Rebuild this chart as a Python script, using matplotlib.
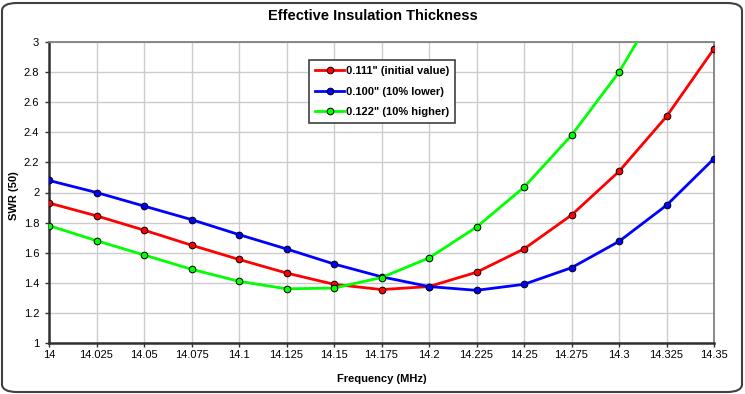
import matplotlib
matplotlib.use("Agg")
import matplotlib.pyplot as plt
from matplotlib.patches import FancyBboxPatch

freq = [14.0, 14.025, 14.05, 14.075, 14.1, 14.125, 14.15, 14.175, 14.2, 14.225, 14.25, 14.275, 14.3, 14.325, 14.35]
swr_initial = [1.93, 1.845, 1.75, 1.65, 1.555, 1.465, 1.39, 1.355, 1.375, 1.47, 1.625, 1.85, 2.14, 2.505, 2.955]
swr_lower = [2.08, 2.00, 1.91, 1.82, 1.72, 1.625, 1.525, 1.44, 1.375, 1.35, 1.39, 1.50, 1.675, 1.915, 2.225]
swr_higher = [1.78, 1.68, 1.585, 1.49, 1.41, 1.36, 1.365, 1.435, 1.565, 1.77, 2.035, 2.38, 2.80, 3.33, 3.95]
labels = ['0.111" (initial value)', '0.100" (10% lower)', '0.122" (10% higher)']
colors = ['#ff0000', '#0000ff', '#00ff00']
xticks = [14, 14.025, 14.05, 14.075, 14.1, 14.125, 14.15, 14.175, 14.2, 14.225, 14.25, 14.275, 14.3, 14.325, 14.35]
xtick_labels = ['14', '14.025', '14.05', '14.075', '14.1', '14.125', '14.15', '14.175', '14.2', '14.225', '14.25', '14.275', '14.3', '14.325', '14.35']
yticks = [1, 1.2, 1.4, 1.6, 1.8, 2, 2.2, 2.4, 2.6, 2.8, 3]
ytick_labels = ['1', '1.2', '1.4', '1.6', '1.8', '2', '2.2', '2.4', '2.6', '2.8', '3']

plt.rcParams['font.family'] = ['Liberation Sans', 'DejaVu Sans']

W, H = 745, 394
fig = plt.figure(figsize=(W / 100, H / 100), dpi=100)
fig.patch.set_facecolor('white')

border = FancyBboxPatch((2 / W, 2 / H), 1 - 5 / W, 1 - 5 / H,
                        boxstyle="round,pad=0,rounding_size=0.02",
                        transform=fig.transFigure, facecolor='none',
                        edgecolor='#404040', linewidth=1.5, zorder=-1)
fig.patches.append(border)

ax = fig.add_axes([49 / W, 1 - 343 / H, (714 - 49) / W, (343 - 42) / H])
ax.set_facecolor('white')

for ys, c, lab in zip([swr_initial, swr_lower, swr_higher], colors, labels):
    ax.plot(freq, ys, color=c, linewidth=2.0, marker='o', markersize=4.8,
            markerfacecolor=c, markeredgecolor='black', markeredgewidth=0.7,
            label=lab, clip_on=True, zorder=3)

ax.set_xlim(14, 14.35)
ax.set_ylim(1, 3)
ax.set_xticks(xticks)
ax.set_xticklabels(xtick_labels, fontsize=8)
ax.set_yticks(yticks)
ax.set_yticklabels(ytick_labels, fontsize=8)
ax.grid(True, color='#cccccc', linewidth=1.0, zorder=0)
ax.set_axisbelow(True)

for s in ['top', 'right']:
    ax.spines[s].set_color('#808080')
    ax.spines[s].set_linewidth(1.3)
for s in ['left', 'bottom']:
    ax.spines[s].set_color('#303030')
    ax.spines[s].set_linewidth(1.8)
ax.tick_params(axis='x', direction='out', length=3, width=1, color='#303030', pad=2)
ax.tick_params(axis='y', direction='out', length=3, width=1, color='#303030', pad=4)

ax.set_xlabel('Frequency (MHz)', fontsize=8, fontweight='bold', labelpad=10)
ax.set_ylabel('SWR (50)', fontsize=8, fontweight='bold', va='center')
ax.yaxis.set_label_coords((14 - 49) / (714 - 49), 0.49)
fig.text(0.5, 1 - 16 / H, 'Effective Insulation Thickness', ha='center', va='center',
         fontsize=10.5, fontweight='bold')

leg = ax.legend(loc='upper left', bbox_to_anchor=((309 - 49) / (714 - 49), (343 - 60) / (343 - 42)),
                prop={'weight': 'bold', 'size': 8}, frameon=True, fancybox=False,
                edgecolor='#404040', handlelength=2.6, handletextpad=0.15, borderpad=0.55,
                labelspacing=0.95, borderaxespad=0)
leg.get_frame().set_linewidth(1.2)
leg.get_frame().set_facecolor('white')
leg.get_frame().set_alpha(1)

fig.savefig('out.png', dpi=100)
